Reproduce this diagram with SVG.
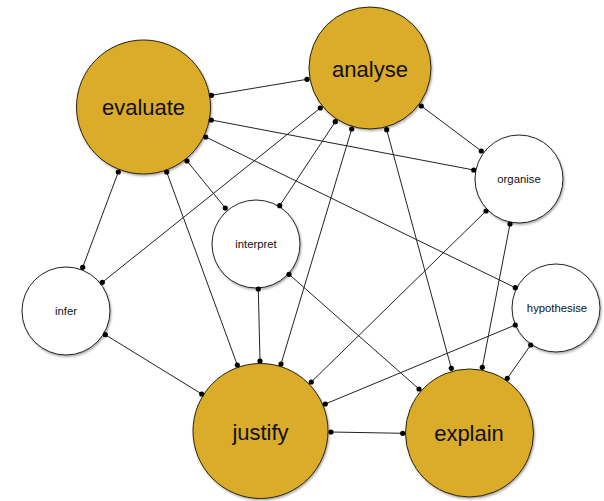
<svg xmlns="http://www.w3.org/2000/svg" width="604" height="501" viewBox="0 0 604 501">
<defs>
<style>
.big{fill:#DBAB2A;stroke:#2a2410;stroke-width:1;filter:url(#sh)}
.small{fill:#ffffff;stroke:#222;stroke-width:1;filter:url(#sh)}
.lb{font-family:"Liberation Sans",Arial,sans-serif;font-size:22px;fill:#111;text-anchor:middle}
.ls{font-family:"Liberation Sans",Arial,sans-serif;font-size:11.3px;fill:#111;text-anchor:middle}
#edges line{stroke:#222;stroke-width:1;marker-start:url(#dot);marker-end:url(#dot)}
</style>
<filter id="sh" x="-10%" y="-10%" width="125%" height="125%">
<feDropShadow dx="1" dy="1.5" stdDeviation="1" flood-color="#000" flood-opacity="0.35"/>
</filter>
<marker id="dot" markerUnits="userSpaceOnUse" markerWidth="8" markerHeight="8" refX="4" refY="4" viewBox="0 0 8 8">
<circle cx="4" cy="4" r="2.6" fill="#000"/>
</marker>
</defs>
<rect width="604" height="501" fill="#ffffff"/>
<g id="nodes-bg">
<g id="evaluate"><circle class="big" cx="143.5" cy="107" r="67"/><text class="lb" x="143.5" y="115">evaluate</text></g>
<g id="analyse"><circle class="big" cx="370" cy="68" r="61"/><text class="lb" x="370" y="77">analyse</text></g>
<g id="organise"><circle class="small" cx="519" cy="179" r="44"/><text class="ls" x="519" y="183">organise</text></g>
<g id="interpret"><circle class="small" cx="256" cy="244" r="44"/><text class="ls" x="256" y="248">interpret</text></g>
<g id="infer"><circle class="small" cx="66" cy="311" r="44"/><text class="ls" x="66" y="315">infer</text></g>
<g id="hypothesise"><circle class="small" cx="556" cy="308" r="44"/><text class="ls" x="557" y="312">hypothesise</text></g>
<g id="justify"><circle class="big" cx="260.5" cy="431" r="67.5"/><text class="lb" x="260.5" y="440">justify</text></g>
<g id="explain"><circle class="big" cx="469.5" cy="433" r="64"/><text class="lb" x="469" y="441">explain</text></g>
</g>
<g id="edges">
<line x1="211.5" y1="95.3" x2="307" y2="79.3"/>
<line x1="211.3" y1="120" x2="473.7" y2="170"/>
<line x1="205.7" y1="137" x2="515.3" y2="287.7"/>
<line x1="187" y1="161" x2="225.3" y2="208"/>
<line x1="166.7" y1="172" x2="237.3" y2="365"/>
<line x1="118.3" y1="172" x2="82.7" y2="267.3"/>
<line x1="320.3" y1="108" x2="102.3" y2="282.3"/>
<line x1="335.3" y1="121.7" x2="279.7" y2="205.7"/>
<line x1="351.7" y1="129" x2="281" y2="364"/>
<line x1="386.7" y1="129.7" x2="451.3" y2="368.3"/>
<line x1="421.3" y1="106" x2="481.3" y2="151"/>
<line x1="486" y1="211" x2="311.3" y2="382"/>
<line x1="510" y1="224" x2="482.3" y2="367.3"/>
<line x1="258.3" y1="289" x2="260" y2="361"/>
<line x1="289" y1="274.3" x2="419" y2="389"/>
<line x1="515.3" y1="325" x2="325.3" y2="404"/>
<line x1="530.7" y1="345" x2="507.3" y2="378.3"/>
<line x1="105.3" y1="334.7" x2="201.7" y2="394"/>
<line x1="331" y1="432" x2="402.7" y2="433.3"/>
</g>
</svg>
